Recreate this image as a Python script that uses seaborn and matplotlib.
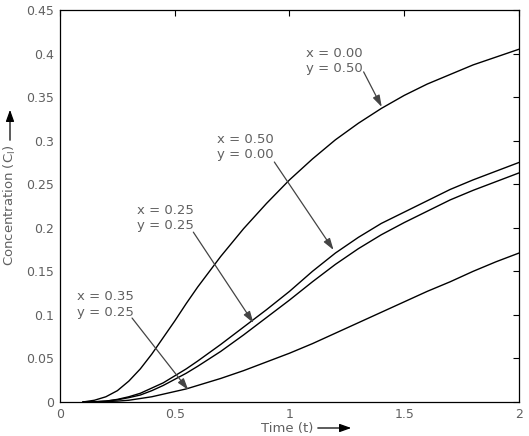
import matplotlib
matplotlib.use("Agg")
import matplotlib.pyplot as plt
import seaborn as sns
import pandas as pd

# ---- data ----
time = [0.10, 0.15, 0.20, 0.25, 0.30, 0.35, 0.40, 0.45, 0.50, 0.55, 0.60,
        0.70, 0.80, 0.90, 1.00, 1.10, 1.20, 1.30, 1.40, 1.50, 1.60, 1.70,
        1.80, 1.90, 2.00]
conc_x000_y050 = [0.0, 0.002, 0.006, 0.013, 0.024, 0.038, 0.055, 0.074, 0.093, 0.113, 0.132,
                  0.167, 0.199, 0.228, 0.255, 0.279, 0.301, 0.320, 0.337, 0.352, 0.365,
                  0.376, 0.387, 0.396, 0.405]
conc_x050_y000 = [0.0, 0.0003, 0.001, 0.003, 0.006, 0.010, 0.016, 0.022, 0.030, 0.038, 0.047,
                  0.066, 0.086, 0.106, 0.127, 0.150, 0.171, 0.189, 0.205, 0.218, 0.231,
                  0.244, 0.255, 0.265, 0.275]
conc_x025_y025 = [0.0, 0.0002, 0.001, 0.0025, 0.005, 0.008, 0.013, 0.019, 0.026, 0.033, 0.041,
                  0.058, 0.077, 0.097, 0.117, 0.138, 0.158, 0.176, 0.192, 0.206, 0.219,
                  0.232, 0.243, 0.253, 0.263]
conc_x035_y025 = [0.0, 0.0002, 0.0005, 0.001, 0.002, 0.004, 0.006, 0.009, 0.012, 0.015, 0.019,
                  0.027, 0.036, 0.046, 0.056, 0.067, 0.079, 0.091, 0.103, 0.115, 0.127,
                  0.138, 0.150, 0.161, 0.171]
series_names = ["x = 0.00\ny = 0.50", "x = 0.50\ny = 0.00",
                "x = 0.25\ny = 0.25", "x = 0.35\ny = 0.25"]
x_ticks = [0, 0.5, 1, 1.5, 2]
x_tick_labels = ["0", "0.5", "1", "1.5", "2"]
y_ticks = [0, 0.05, 0.1, 0.15, 0.2, 0.25, 0.3, 0.35, 0.4, 0.45]
y_tick_labels = ["0", "0.05", "0.1", "0.15", "0.2", "0.25", "0.3", "0.35", "0.4", "0.45"]

# annotation layout: (text position, arrow start, arrow tip) in data coords
ann_text_pos = [(1.074, 0.3915), (0.686, 0.2928), (0.336, 0.2113), (0.074, 0.112)]
ann_start = [(1.323, 0.379), (0.934, 0.2755), (0.581, 0.195), (0.314, 0.0964)]
ann_tip = [(1.402, 0.3387), (1.192, 0.1745), (0.843, 0.0907), (0.559, 0.0138)]

frames = []
for name, vals in zip(series_names, [conc_x000_y050, conc_x050_y000,
                                     conc_x025_y025, conc_x035_y025]):
    frames.append(pd.DataFrame({"t": time, "c": vals, "series": name}))
df = pd.concat(frames, ignore_index=True)

sns.set_theme(style="white")
plt.rcParams["font.family"] = ["DejaVu Sans"]
gray = "#606060"

fig = plt.figure(figsize=(5.29, 4.36), dpi=100)
ax = fig.add_axes([0.1134, 0.078, 0.8677, 0.899])

sns.lineplot(data=df, x="t", y="c", hue="series", palette=["black"] * 4,
             legend=False, linewidth=1.0, ax=ax)

ax.set_xlim(0, 2)
ax.set_ylim(0, 0.45)
ax.set_xticks(x_ticks)
ax.set_xticklabels(x_tick_labels)
ax.set_yticks(y_ticks)
ax.set_yticklabels(y_tick_labels)
ax.tick_params(direction="in", top=True, right=True, length=4, width=0.8,
               colors="black", labelcolor=gray, labelsize=9, pad=4)
ax.set_xlabel("")
ax.set_ylabel("")
for s in ax.spines.values():
    s.set_color("black")
    s.set_linewidth(0.9)

for name, tp, st, tip in zip(series_names, ann_text_pos, ann_start, ann_tip):
    ax.text(tp[0], tp[1], name, ha="left", va="center", fontsize=9.5,
            color=gray, linespacing=1.25)
    ax.annotate("", xy=tip, xytext=st,
                arrowprops=dict(arrowstyle="-|>,head_length=0.7,head_width=0.22",
                                color="#444444", lw=0.9, mutation_scale=10,
                                shrinkA=0, shrinkB=0))

# axis labels with arrows
fig.text(261 / 529, 1 - 428 / 436, "Time (t)", ha="left", va="center",
         fontsize=9.5, color=gray)
fig.patches.append(matplotlib.patches.FancyArrowPatch(
    (315 / 529, 1 - 428 / 436), (354 / 529, 1 - 428 / 436),
    transform=fig.transFigure, arrowstyle="-|>,head_length=0.7,head_width=0.25",
    mutation_scale=10, color="black", lw=0.9))
fig.text(10 / 529, 1 - 205 / 436, "Concentration (C$_\\mathregular{l}$)", ha="center",
         va="center", rotation=90, fontsize=9.5, color=gray)
fig.patches.append(matplotlib.patches.FancyArrowPatch(
    (10 / 529, 1 - 143 / 436), (10 / 529, 1 - 107 / 436),
    transform=fig.transFigure, arrowstyle="-|>,head_length=0.7,head_width=0.25",
    mutation_scale=10, color="black", lw=0.9))

fig.savefig("out.png", dpi=100)
